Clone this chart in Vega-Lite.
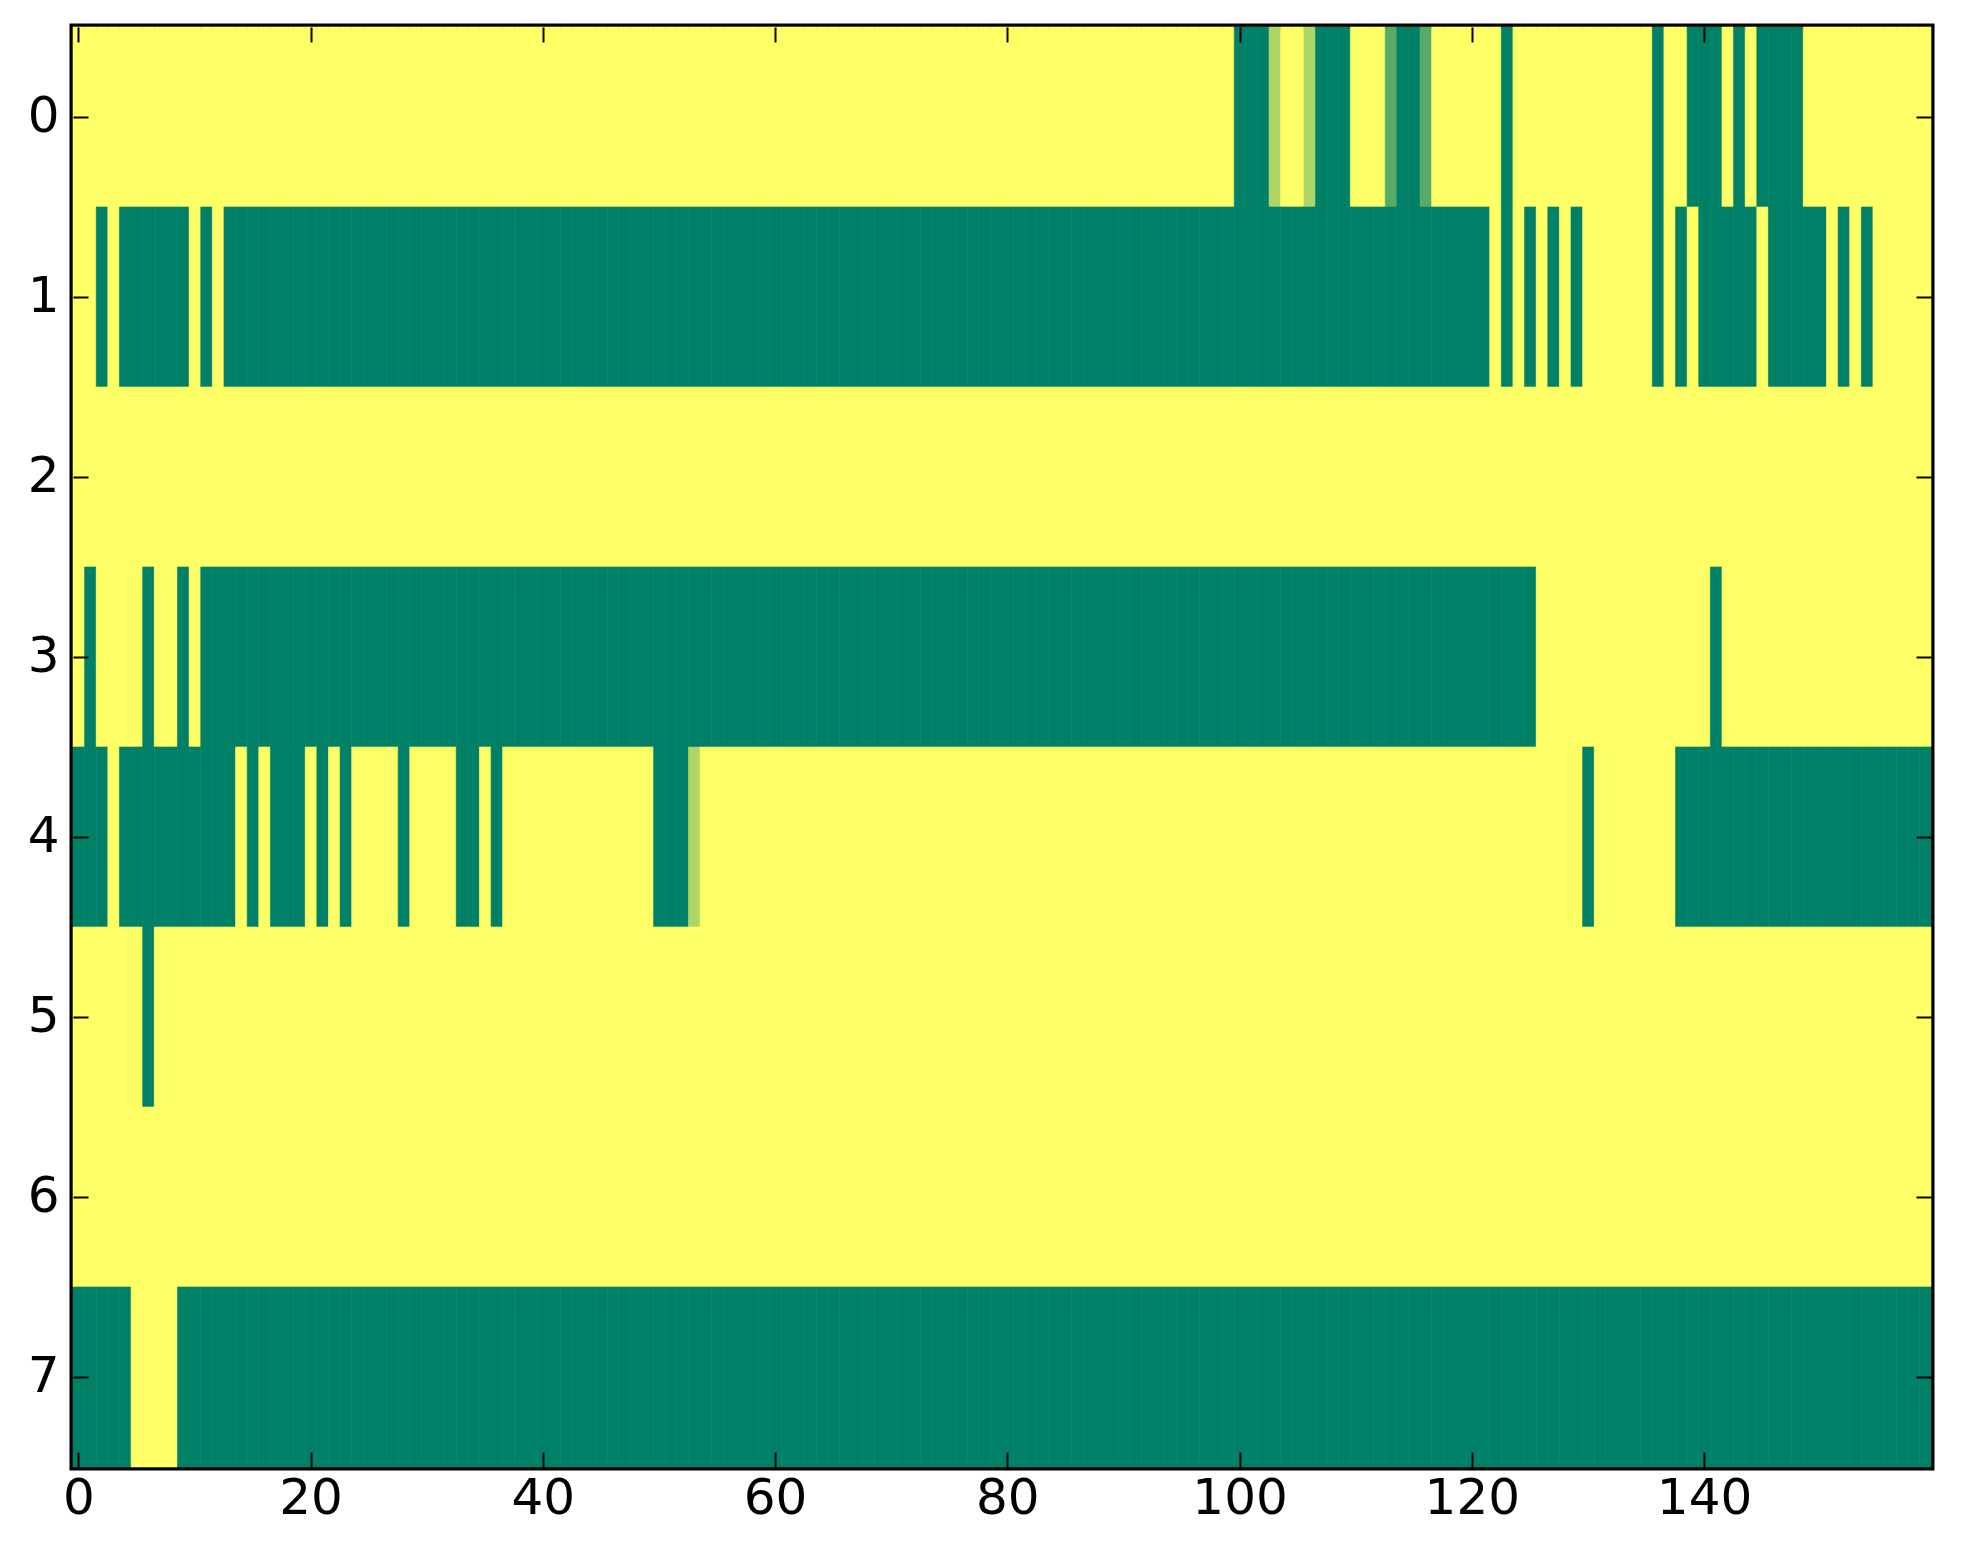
{
"$schema": "https://vega.github.io/schema/vega-lite/v6.json",
"width": 1858,
"height": 1440,
"autosize": "none",
"padding": {"left": 73, "top": 27, "right": 32, "bottom": 97},
"background": "white",
"config": {"view": {"stroke": "black", "strokeWidth": 7}},
"data": {"values": [
{"r":0,"c":0,"v":0},{"r":0,"c":1,"v":0},{"r":0,"c":2,"v":0},{"r":0,"c":3,"v":0},{"r":0,"c":4,"v":0},{"r":0,"c":5,"v":0},{"r":0,"c":6,"v":0},{"r":0,"c":7,"v":0},{"r":0,"c":8,"v":0},{"r":0,"c":9,"v":0},
{"r":0,"c":10,"v":0},{"r":0,"c":11,"v":0},{"r":0,"c":12,"v":0},{"r":0,"c":13,"v":0},{"r":0,"c":14,"v":0},{"r":0,"c":15,"v":0},{"r":0,"c":16,"v":0},{"r":0,"c":17,"v":0},{"r":0,"c":18,"v":0},{"r":0,"c":19,"v":0},
{"r":0,"c":20,"v":0},{"r":0,"c":21,"v":0},{"r":0,"c":22,"v":0},{"r":0,"c":23,"v":0},{"r":0,"c":24,"v":0},{"r":0,"c":25,"v":0},{"r":0,"c":26,"v":0},{"r":0,"c":27,"v":0},{"r":0,"c":28,"v":0},{"r":0,"c":29,"v":0},
{"r":0,"c":30,"v":0},{"r":0,"c":31,"v":0},{"r":0,"c":32,"v":0},{"r":0,"c":33,"v":0},{"r":0,"c":34,"v":0},{"r":0,"c":35,"v":0},{"r":0,"c":36,"v":0},{"r":0,"c":37,"v":0},{"r":0,"c":38,"v":0},{"r":0,"c":39,"v":0},
{"r":0,"c":40,"v":0},{"r":0,"c":41,"v":0},{"r":0,"c":42,"v":0},{"r":0,"c":43,"v":0},{"r":0,"c":44,"v":0},{"r":0,"c":45,"v":0},{"r":0,"c":46,"v":0},{"r":0,"c":47,"v":0},{"r":0,"c":48,"v":0},{"r":0,"c":49,"v":0},
{"r":0,"c":50,"v":0},{"r":0,"c":51,"v":0},{"r":0,"c":52,"v":0},{"r":0,"c":53,"v":0},{"r":0,"c":54,"v":0},{"r":0,"c":55,"v":0},{"r":0,"c":56,"v":0},{"r":0,"c":57,"v":0},{"r":0,"c":58,"v":0},{"r":0,"c":59,"v":0},
{"r":0,"c":60,"v":0},{"r":0,"c":61,"v":0},{"r":0,"c":62,"v":0},{"r":0,"c":63,"v":0},{"r":0,"c":64,"v":0},{"r":0,"c":65,"v":0},{"r":0,"c":66,"v":0},{"r":0,"c":67,"v":0},{"r":0,"c":68,"v":0},{"r":0,"c":69,"v":0},
{"r":0,"c":70,"v":0},{"r":0,"c":71,"v":0},{"r":0,"c":72,"v":0},{"r":0,"c":73,"v":0},{"r":0,"c":74,"v":0},{"r":0,"c":75,"v":0},{"r":0,"c":76,"v":0},{"r":0,"c":77,"v":0},{"r":0,"c":78,"v":0},{"r":0,"c":79,"v":0},
{"r":0,"c":80,"v":0},{"r":0,"c":81,"v":0},{"r":0,"c":82,"v":0},{"r":0,"c":83,"v":0},{"r":0,"c":84,"v":0},{"r":0,"c":85,"v":0},{"r":0,"c":86,"v":0},{"r":0,"c":87,"v":0},{"r":0,"c":88,"v":0},{"r":0,"c":89,"v":0},
{"r":0,"c":90,"v":0},{"r":0,"c":91,"v":0},{"r":0,"c":92,"v":0},{"r":0,"c":93,"v":0},{"r":0,"c":94,"v":0},{"r":0,"c":95,"v":0},{"r":0,"c":96,"v":0},{"r":0,"c":97,"v":0},{"r":0,"c":98,"v":0},{"r":0,"c":99,"v":0},
{"r":0,"c":100,"v":1},{"r":0,"c":101,"v":1},{"r":0,"c":102,"v":1},{"r":0,"c":103,"v":0.32},{"r":0,"c":104,"v":0},{"r":0,"c":105,"v":0},{"r":0,"c":106,"v":0.32},{"r":0,"c":107,"v":1},{"r":0,"c":108,"v":1},{"r":0,"c":109,"v":1},
{"r":0,"c":110,"v":0},{"r":0,"c":111,"v":0},{"r":0,"c":112,"v":0},{"r":0,"c":113,"v":0.66},{"r":0,"c":114,"v":1},{"r":0,"c":115,"v":1},{"r":0,"c":116,"v":0.66},{"r":0,"c":117,"v":0},{"r":0,"c":118,"v":0},{"r":0,"c":119,"v":0},
{"r":0,"c":120,"v":0},{"r":0,"c":121,"v":0},{"r":0,"c":122,"v":0},{"r":0,"c":123,"v":1},{"r":0,"c":124,"v":0},{"r":0,"c":125,"v":0},{"r":0,"c":126,"v":0},{"r":0,"c":127,"v":0},{"r":0,"c":128,"v":0},{"r":0,"c":129,"v":0},
{"r":0,"c":130,"v":0},{"r":0,"c":131,"v":0},{"r":0,"c":132,"v":0},{"r":0,"c":133,"v":0},{"r":0,"c":134,"v":0},{"r":0,"c":135,"v":0},{"r":0,"c":136,"v":1},{"r":0,"c":137,"v":0},{"r":0,"c":138,"v":0},{"r":0,"c":139,"v":1},
{"r":0,"c":140,"v":1},{"r":0,"c":141,"v":1},{"r":0,"c":142,"v":0},{"r":0,"c":143,"v":1},{"r":0,"c":144,"v":0},{"r":0,"c":145,"v":1},{"r":0,"c":146,"v":1},{"r":0,"c":147,"v":1},{"r":0,"c":148,"v":1},{"r":0,"c":149,"v":0},
{"r":0,"c":150,"v":0},{"r":0,"c":151,"v":0},{"r":0,"c":152,"v":0},{"r":0,"c":153,"v":0},{"r":0,"c":154,"v":0},{"r":0,"c":155,"v":0},{"r":0,"c":156,"v":0},{"r":0,"c":157,"v":0},{"r":0,"c":158,"v":0},{"r":0,"c":159,"v":0},

{"r":1,"c":0,"v":0},{"r":1,"c":1,"v":0},{"r":1,"c":2,"v":1},{"r":1,"c":3,"v":0},{"r":1,"c":4,"v":1},{"r":1,"c":5,"v":1},{"r":1,"c":6,"v":1},{"r":1,"c":7,"v":1},{"r":1,"c":8,"v":1},{"r":1,"c":9,"v":1},
{"r":1,"c":10,"v":0},{"r":1,"c":11,"v":1},{"r":1,"c":12,"v":0},{"r":1,"c":13,"v":1},{"r":1,"c":14,"v":1},{"r":1,"c":15,"v":1},{"r":1,"c":16,"v":1},{"r":1,"c":17,"v":1},{"r":1,"c":18,"v":1},{"r":1,"c":19,"v":1},
{"r":1,"c":20,"v":1},{"r":1,"c":21,"v":1},{"r":1,"c":22,"v":1},{"r":1,"c":23,"v":1},{"r":1,"c":24,"v":1},{"r":1,"c":25,"v":1},{"r":1,"c":26,"v":1},{"r":1,"c":27,"v":1},{"r":1,"c":28,"v":1},{"r":1,"c":29,"v":1},
{"r":1,"c":30,"v":1},{"r":1,"c":31,"v":1},{"r":1,"c":32,"v":1},{"r":1,"c":33,"v":1},{"r":1,"c":34,"v":1},{"r":1,"c":35,"v":1},{"r":1,"c":36,"v":1},{"r":1,"c":37,"v":1},{"r":1,"c":38,"v":1},{"r":1,"c":39,"v":1},
{"r":1,"c":40,"v":1},{"r":1,"c":41,"v":1},{"r":1,"c":42,"v":1},{"r":1,"c":43,"v":1},{"r":1,"c":44,"v":1},{"r":1,"c":45,"v":1},{"r":1,"c":46,"v":1},{"r":1,"c":47,"v":1},{"r":1,"c":48,"v":1},{"r":1,"c":49,"v":1},
{"r":1,"c":50,"v":1},{"r":1,"c":51,"v":1},{"r":1,"c":52,"v":1},{"r":1,"c":53,"v":1},{"r":1,"c":54,"v":1},{"r":1,"c":55,"v":1},{"r":1,"c":56,"v":1},{"r":1,"c":57,"v":1},{"r":1,"c":58,"v":1},{"r":1,"c":59,"v":1},
{"r":1,"c":60,"v":1},{"r":1,"c":61,"v":1},{"r":1,"c":62,"v":1},{"r":1,"c":63,"v":1},{"r":1,"c":64,"v":1},{"r":1,"c":65,"v":1},{"r":1,"c":66,"v":1},{"r":1,"c":67,"v":1},{"r":1,"c":68,"v":1},{"r":1,"c":69,"v":1},
{"r":1,"c":70,"v":1},{"r":1,"c":71,"v":1},{"r":1,"c":72,"v":1},{"r":1,"c":73,"v":1},{"r":1,"c":74,"v":1},{"r":1,"c":75,"v":1},{"r":1,"c":76,"v":1},{"r":1,"c":77,"v":1},{"r":1,"c":78,"v":1},{"r":1,"c":79,"v":1},
{"r":1,"c":80,"v":1},{"r":1,"c":81,"v":1},{"r":1,"c":82,"v":1},{"r":1,"c":83,"v":1},{"r":1,"c":84,"v":1},{"r":1,"c":85,"v":1},{"r":1,"c":86,"v":1},{"r":1,"c":87,"v":1},{"r":1,"c":88,"v":1},{"r":1,"c":89,"v":1},
{"r":1,"c":90,"v":1},{"r":1,"c":91,"v":1},{"r":1,"c":92,"v":1},{"r":1,"c":93,"v":1},{"r":1,"c":94,"v":1},{"r":1,"c":95,"v":1},{"r":1,"c":96,"v":1},{"r":1,"c":97,"v":1},{"r":1,"c":98,"v":1},{"r":1,"c":99,"v":1},
{"r":1,"c":100,"v":1},{"r":1,"c":101,"v":1},{"r":1,"c":102,"v":1},{"r":1,"c":103,"v":1},{"r":1,"c":104,"v":1},{"r":1,"c":105,"v":1},{"r":1,"c":106,"v":1},{"r":1,"c":107,"v":1},{"r":1,"c":108,"v":1},{"r":1,"c":109,"v":1},
{"r":1,"c":110,"v":1},{"r":1,"c":111,"v":1},{"r":1,"c":112,"v":1},{"r":1,"c":113,"v":1},{"r":1,"c":114,"v":1},{"r":1,"c":115,"v":1},{"r":1,"c":116,"v":1},{"r":1,"c":117,"v":1},{"r":1,"c":118,"v":1},{"r":1,"c":119,"v":1},
{"r":1,"c":120,"v":1},{"r":1,"c":121,"v":1},{"r":1,"c":122,"v":0},{"r":1,"c":123,"v":1},{"r":1,"c":124,"v":0},{"r":1,"c":125,"v":1},{"r":1,"c":126,"v":0},{"r":1,"c":127,"v":1},{"r":1,"c":128,"v":0},{"r":1,"c":129,"v":1},
{"r":1,"c":130,"v":0},{"r":1,"c":131,"v":0},{"r":1,"c":132,"v":0},{"r":1,"c":133,"v":0},{"r":1,"c":134,"v":0},{"r":1,"c":135,"v":0},{"r":1,"c":136,"v":1},{"r":1,"c":137,"v":0},{"r":1,"c":138,"v":1},{"r":1,"c":139,"v":0},
{"r":1,"c":140,"v":1},{"r":1,"c":141,"v":1},{"r":1,"c":142,"v":1},{"r":1,"c":143,"v":1},{"r":1,"c":144,"v":1},{"r":1,"c":145,"v":0},{"r":1,"c":146,"v":1},{"r":1,"c":147,"v":1},{"r":1,"c":148,"v":1},{"r":1,"c":149,"v":1},
{"r":1,"c":150,"v":1},{"r":1,"c":151,"v":0},{"r":1,"c":152,"v":1},{"r":1,"c":153,"v":0},{"r":1,"c":154,"v":1},{"r":1,"c":155,"v":0},{"r":1,"c":156,"v":0},{"r":1,"c":157,"v":0},{"r":1,"c":158,"v":0},{"r":1,"c":159,"v":0},

{"r":2,"c":0,"v":0},{"r":2,"c":1,"v":0},{"r":2,"c":2,"v":0},{"r":2,"c":3,"v":0},{"r":2,"c":4,"v":0},{"r":2,"c":5,"v":0},{"r":2,"c":6,"v":0},{"r":2,"c":7,"v":0},{"r":2,"c":8,"v":0},{"r":2,"c":9,"v":0},
{"r":2,"c":10,"v":0},{"r":2,"c":11,"v":0},{"r":2,"c":12,"v":0},{"r":2,"c":13,"v":0},{"r":2,"c":14,"v":0},{"r":2,"c":15,"v":0},{"r":2,"c":16,"v":0},{"r":2,"c":17,"v":0},{"r":2,"c":18,"v":0},{"r":2,"c":19,"v":0},
{"r":2,"c":20,"v":0},{"r":2,"c":21,"v":0},{"r":2,"c":22,"v":0},{"r":2,"c":23,"v":0},{"r":2,"c":24,"v":0},{"r":2,"c":25,"v":0},{"r":2,"c":26,"v":0},{"r":2,"c":27,"v":0},{"r":2,"c":28,"v":0},{"r":2,"c":29,"v":0},
{"r":2,"c":30,"v":0},{"r":2,"c":31,"v":0},{"r":2,"c":32,"v":0},{"r":2,"c":33,"v":0},{"r":2,"c":34,"v":0},{"r":2,"c":35,"v":0},{"r":2,"c":36,"v":0},{"r":2,"c":37,"v":0},{"r":2,"c":38,"v":0},{"r":2,"c":39,"v":0},
{"r":2,"c":40,"v":0},{"r":2,"c":41,"v":0},{"r":2,"c":42,"v":0},{"r":2,"c":43,"v":0},{"r":2,"c":44,"v":0},{"r":2,"c":45,"v":0},{"r":2,"c":46,"v":0},{"r":2,"c":47,"v":0},{"r":2,"c":48,"v":0},{"r":2,"c":49,"v":0},
{"r":2,"c":50,"v":0},{"r":2,"c":51,"v":0},{"r":2,"c":52,"v":0},{"r":2,"c":53,"v":0},{"r":2,"c":54,"v":0},{"r":2,"c":55,"v":0},{"r":2,"c":56,"v":0},{"r":2,"c":57,"v":0},{"r":2,"c":58,"v":0},{"r":2,"c":59,"v":0},
{"r":2,"c":60,"v":0},{"r":2,"c":61,"v":0},{"r":2,"c":62,"v":0},{"r":2,"c":63,"v":0},{"r":2,"c":64,"v":0},{"r":2,"c":65,"v":0},{"r":2,"c":66,"v":0},{"r":2,"c":67,"v":0},{"r":2,"c":68,"v":0},{"r":2,"c":69,"v":0},
{"r":2,"c":70,"v":0},{"r":2,"c":71,"v":0},{"r":2,"c":72,"v":0},{"r":2,"c":73,"v":0},{"r":2,"c":74,"v":0},{"r":2,"c":75,"v":0},{"r":2,"c":76,"v":0},{"r":2,"c":77,"v":0},{"r":2,"c":78,"v":0},{"r":2,"c":79,"v":0},
{"r":2,"c":80,"v":0},{"r":2,"c":81,"v":0},{"r":2,"c":82,"v":0},{"r":2,"c":83,"v":0},{"r":2,"c":84,"v":0},{"r":2,"c":85,"v":0},{"r":2,"c":86,"v":0},{"r":2,"c":87,"v":0},{"r":2,"c":88,"v":0},{"r":2,"c":89,"v":0},
{"r":2,"c":90,"v":0},{"r":2,"c":91,"v":0},{"r":2,"c":92,"v":0},{"r":2,"c":93,"v":0},{"r":2,"c":94,"v":0},{"r":2,"c":95,"v":0},{"r":2,"c":96,"v":0},{"r":2,"c":97,"v":0},{"r":2,"c":98,"v":0},{"r":2,"c":99,"v":0},
{"r":2,"c":100,"v":0},{"r":2,"c":101,"v":0},{"r":2,"c":102,"v":0},{"r":2,"c":103,"v":0},{"r":2,"c":104,"v":0},{"r":2,"c":105,"v":0},{"r":2,"c":106,"v":0},{"r":2,"c":107,"v":0},{"r":2,"c":108,"v":0},{"r":2,"c":109,"v":0},
{"r":2,"c":110,"v":0},{"r":2,"c":111,"v":0},{"r":2,"c":112,"v":0},{"r":2,"c":113,"v":0},{"r":2,"c":114,"v":0},{"r":2,"c":115,"v":0},{"r":2,"c":116,"v":0},{"r":2,"c":117,"v":0},{"r":2,"c":118,"v":0},{"r":2,"c":119,"v":0},
{"r":2,"c":120,"v":0},{"r":2,"c":121,"v":0},{"r":2,"c":122,"v":0},{"r":2,"c":123,"v":0},{"r":2,"c":124,"v":0},{"r":2,"c":125,"v":0},{"r":2,"c":126,"v":0},{"r":2,"c":127,"v":0},{"r":2,"c":128,"v":0},{"r":2,"c":129,"v":0},
{"r":2,"c":130,"v":0},{"r":2,"c":131,"v":0},{"r":2,"c":132,"v":0},{"r":2,"c":133,"v":0},{"r":2,"c":134,"v":0},{"r":2,"c":135,"v":0},{"r":2,"c":136,"v":0},{"r":2,"c":137,"v":0},{"r":2,"c":138,"v":0},{"r":2,"c":139,"v":0},
{"r":2,"c":140,"v":0},{"r":2,"c":141,"v":0},{"r":2,"c":142,"v":0},{"r":2,"c":143,"v":0},{"r":2,"c":144,"v":0},{"r":2,"c":145,"v":0},{"r":2,"c":146,"v":0},{"r":2,"c":147,"v":0},{"r":2,"c":148,"v":0},{"r":2,"c":149,"v":0},
{"r":2,"c":150,"v":0},{"r":2,"c":151,"v":0},{"r":2,"c":152,"v":0},{"r":2,"c":153,"v":0},{"r":2,"c":154,"v":0},{"r":2,"c":155,"v":0},{"r":2,"c":156,"v":0},{"r":2,"c":157,"v":0},{"r":2,"c":158,"v":0},{"r":2,"c":159,"v":0},

{"r":3,"c":0,"v":0},{"r":3,"c":1,"v":1},{"r":3,"c":2,"v":0},{"r":3,"c":3,"v":0},{"r":3,"c":4,"v":0},{"r":3,"c":5,"v":0},{"r":3,"c":6,"v":1},{"r":3,"c":7,"v":0},{"r":3,"c":8,"v":0},{"r":3,"c":9,"v":1},
{"r":3,"c":10,"v":0},{"r":3,"c":11,"v":1},{"r":3,"c":12,"v":1},{"r":3,"c":13,"v":1},{"r":3,"c":14,"v":1},{"r":3,"c":15,"v":1},{"r":3,"c":16,"v":1},{"r":3,"c":17,"v":1},{"r":3,"c":18,"v":1},{"r":3,"c":19,"v":1},
{"r":3,"c":20,"v":1},{"r":3,"c":21,"v":1},{"r":3,"c":22,"v":1},{"r":3,"c":23,"v":1},{"r":3,"c":24,"v":1},{"r":3,"c":25,"v":1},{"r":3,"c":26,"v":1},{"r":3,"c":27,"v":1},{"r":3,"c":28,"v":1},{"r":3,"c":29,"v":1},
{"r":3,"c":30,"v":1},{"r":3,"c":31,"v":1},{"r":3,"c":32,"v":1},{"r":3,"c":33,"v":1},{"r":3,"c":34,"v":1},{"r":3,"c":35,"v":1},{"r":3,"c":36,"v":1},{"r":3,"c":37,"v":1},{"r":3,"c":38,"v":1},{"r":3,"c":39,"v":1},
{"r":3,"c":40,"v":1},{"r":3,"c":41,"v":1},{"r":3,"c":42,"v":1},{"r":3,"c":43,"v":1},{"r":3,"c":44,"v":1},{"r":3,"c":45,"v":1},{"r":3,"c":46,"v":1},{"r":3,"c":47,"v":1},{"r":3,"c":48,"v":1},{"r":3,"c":49,"v":1},
{"r":3,"c":50,"v":1},{"r":3,"c":51,"v":1},{"r":3,"c":52,"v":1},{"r":3,"c":53,"v":1},{"r":3,"c":54,"v":1},{"r":3,"c":55,"v":1},{"r":3,"c":56,"v":1},{"r":3,"c":57,"v":1},{"r":3,"c":58,"v":1},{"r":3,"c":59,"v":1},
{"r":3,"c":60,"v":1},{"r":3,"c":61,"v":1},{"r":3,"c":62,"v":1},{"r":3,"c":63,"v":1},{"r":3,"c":64,"v":1},{"r":3,"c":65,"v":1},{"r":3,"c":66,"v":1},{"r":3,"c":67,"v":1},{"r":3,"c":68,"v":1},{"r":3,"c":69,"v":1},
{"r":3,"c":70,"v":1},{"r":3,"c":71,"v":1},{"r":3,"c":72,"v":1},{"r":3,"c":73,"v":1},{"r":3,"c":74,"v":1},{"r":3,"c":75,"v":1},{"r":3,"c":76,"v":1},{"r":3,"c":77,"v":1},{"r":3,"c":78,"v":1},{"r":3,"c":79,"v":1},
{"r":3,"c":80,"v":1},{"r":3,"c":81,"v":1},{"r":3,"c":82,"v":1},{"r":3,"c":83,"v":1},{"r":3,"c":84,"v":1},{"r":3,"c":85,"v":1},{"r":3,"c":86,"v":1},{"r":3,"c":87,"v":1},{"r":3,"c":88,"v":1},{"r":3,"c":89,"v":1},
{"r":3,"c":90,"v":1},{"r":3,"c":91,"v":1},{"r":3,"c":92,"v":1},{"r":3,"c":93,"v":1},{"r":3,"c":94,"v":1},{"r":3,"c":95,"v":1},{"r":3,"c":96,"v":1},{"r":3,"c":97,"v":1},{"r":3,"c":98,"v":1},{"r":3,"c":99,"v":1},
{"r":3,"c":100,"v":1},{"r":3,"c":101,"v":1},{"r":3,"c":102,"v":1},{"r":3,"c":103,"v":1},{"r":3,"c":104,"v":1},{"r":3,"c":105,"v":1},{"r":3,"c":106,"v":1},{"r":3,"c":107,"v":1},{"r":3,"c":108,"v":1},{"r":3,"c":109,"v":1},
{"r":3,"c":110,"v":1},{"r":3,"c":111,"v":1},{"r":3,"c":112,"v":1},{"r":3,"c":113,"v":1},{"r":3,"c":114,"v":1},{"r":3,"c":115,"v":1},{"r":3,"c":116,"v":1},{"r":3,"c":117,"v":1},{"r":3,"c":118,"v":1},{"r":3,"c":119,"v":1},
{"r":3,"c":120,"v":1},{"r":3,"c":121,"v":1},{"r":3,"c":122,"v":1},{"r":3,"c":123,"v":1},{"r":3,"c":124,"v":1},{"r":3,"c":125,"v":1},{"r":3,"c":126,"v":0},{"r":3,"c":127,"v":0},{"r":3,"c":128,"v":0},{"r":3,"c":129,"v":0},
{"r":3,"c":130,"v":0},{"r":3,"c":131,"v":0},{"r":3,"c":132,"v":0},{"r":3,"c":133,"v":0},{"r":3,"c":134,"v":0},{"r":3,"c":135,"v":0},{"r":3,"c":136,"v":0},{"r":3,"c":137,"v":0},{"r":3,"c":138,"v":0},{"r":3,"c":139,"v":0},
{"r":3,"c":140,"v":0},{"r":3,"c":141,"v":1},{"r":3,"c":142,"v":0},{"r":3,"c":143,"v":0},{"r":3,"c":144,"v":0},{"r":3,"c":145,"v":0},{"r":3,"c":146,"v":0},{"r":3,"c":147,"v":0},{"r":3,"c":148,"v":0},{"r":3,"c":149,"v":0},
{"r":3,"c":150,"v":0},{"r":3,"c":151,"v":0},{"r":3,"c":152,"v":0},{"r":3,"c":153,"v":0},{"r":3,"c":154,"v":0},{"r":3,"c":155,"v":0},{"r":3,"c":156,"v":0},{"r":3,"c":157,"v":0},{"r":3,"c":158,"v":0},{"r":3,"c":159,"v":0},

{"r":4,"c":0,"v":1},{"r":4,"c":1,"v":1},{"r":4,"c":2,"v":1},{"r":4,"c":3,"v":0},{"r":4,"c":4,"v":1},{"r":4,"c":5,"v":1},{"r":4,"c":6,"v":1},{"r":4,"c":7,"v":1},{"r":4,"c":8,"v":1},{"r":4,"c":9,"v":1},
{"r":4,"c":10,"v":1},{"r":4,"c":11,"v":1},{"r":4,"c":12,"v":1},{"r":4,"c":13,"v":1},{"r":4,"c":14,"v":0},{"r":4,"c":15,"v":1},{"r":4,"c":16,"v":0},{"r":4,"c":17,"v":1},{"r":4,"c":18,"v":1},{"r":4,"c":19,"v":1},
{"r":4,"c":20,"v":0},{"r":4,"c":21,"v":1},{"r":4,"c":22,"v":0},{"r":4,"c":23,"v":1},{"r":4,"c":24,"v":0},{"r":4,"c":25,"v":0},{"r":4,"c":26,"v":0},{"r":4,"c":27,"v":0},{"r":4,"c":28,"v":1},{"r":4,"c":29,"v":0},
{"r":4,"c":30,"v":0},{"r":4,"c":31,"v":0},{"r":4,"c":32,"v":0},{"r":4,"c":33,"v":1},{"r":4,"c":34,"v":1},{"r":4,"c":35,"v":0},{"r":4,"c":36,"v":1},{"r":4,"c":37,"v":0},{"r":4,"c":38,"v":0},{"r":4,"c":39,"v":0},
{"r":4,"c":40,"v":0},{"r":4,"c":41,"v":0},{"r":4,"c":42,"v":0},{"r":4,"c":43,"v":0},{"r":4,"c":44,"v":0},{"r":4,"c":45,"v":0},{"r":4,"c":46,"v":0},{"r":4,"c":47,"v":0},{"r":4,"c":48,"v":0},{"r":4,"c":49,"v":0},
{"r":4,"c":50,"v":1},{"r":4,"c":51,"v":1},{"r":4,"c":52,"v":1},{"r":4,"c":53,"v":0.32},{"r":4,"c":54,"v":0},{"r":4,"c":55,"v":0},{"r":4,"c":56,"v":0},{"r":4,"c":57,"v":0},{"r":4,"c":58,"v":0},{"r":4,"c":59,"v":0},
{"r":4,"c":60,"v":0},{"r":4,"c":61,"v":0},{"r":4,"c":62,"v":0},{"r":4,"c":63,"v":0},{"r":4,"c":64,"v":0},{"r":4,"c":65,"v":0},{"r":4,"c":66,"v":0},{"r":4,"c":67,"v":0},{"r":4,"c":68,"v":0},{"r":4,"c":69,"v":0},
{"r":4,"c":70,"v":0},{"r":4,"c":71,"v":0},{"r":4,"c":72,"v":0},{"r":4,"c":73,"v":0},{"r":4,"c":74,"v":0},{"r":4,"c":75,"v":0},{"r":4,"c":76,"v":0},{"r":4,"c":77,"v":0},{"r":4,"c":78,"v":0},{"r":4,"c":79,"v":0},
{"r":4,"c":80,"v":0},{"r":4,"c":81,"v":0},{"r":4,"c":82,"v":0},{"r":4,"c":83,"v":0},{"r":4,"c":84,"v":0},{"r":4,"c":85,"v":0},{"r":4,"c":86,"v":0},{"r":4,"c":87,"v":0},{"r":4,"c":88,"v":0},{"r":4,"c":89,"v":0},
{"r":4,"c":90,"v":0},{"r":4,"c":91,"v":0},{"r":4,"c":92,"v":0},{"r":4,"c":93,"v":0},{"r":4,"c":94,"v":0},{"r":4,"c":95,"v":0},{"r":4,"c":96,"v":0},{"r":4,"c":97,"v":0},{"r":4,"c":98,"v":0},{"r":4,"c":99,"v":0},
{"r":4,"c":100,"v":0},{"r":4,"c":101,"v":0},{"r":4,"c":102,"v":0},{"r":4,"c":103,"v":0},{"r":4,"c":104,"v":0},{"r":4,"c":105,"v":0},{"r":4,"c":106,"v":0},{"r":4,"c":107,"v":0},{"r":4,"c":108,"v":0},{"r":4,"c":109,"v":0},
{"r":4,"c":110,"v":0},{"r":4,"c":111,"v":0},{"r":4,"c":112,"v":0},{"r":4,"c":113,"v":0},{"r":4,"c":114,"v":0},{"r":4,"c":115,"v":0},{"r":4,"c":116,"v":0},{"r":4,"c":117,"v":0},{"r":4,"c":118,"v":0},{"r":4,"c":119,"v":0},
{"r":4,"c":120,"v":0},{"r":4,"c":121,"v":0},{"r":4,"c":122,"v":0},{"r":4,"c":123,"v":0},{"r":4,"c":124,"v":0},{"r":4,"c":125,"v":0},{"r":4,"c":126,"v":0},{"r":4,"c":127,"v":0},{"r":4,"c":128,"v":0},{"r":4,"c":129,"v":0},
{"r":4,"c":130,"v":1},{"r":4,"c":131,"v":0},{"r":4,"c":132,"v":0},{"r":4,"c":133,"v":0},{"r":4,"c":134,"v":0},{"r":4,"c":135,"v":0},{"r":4,"c":136,"v":0},{"r":4,"c":137,"v":0},{"r":4,"c":138,"v":1},{"r":4,"c":139,"v":1},
{"r":4,"c":140,"v":1},{"r":4,"c":141,"v":1},{"r":4,"c":142,"v":1},{"r":4,"c":143,"v":1},{"r":4,"c":144,"v":1},{"r":4,"c":145,"v":1},{"r":4,"c":146,"v":1},{"r":4,"c":147,"v":1},{"r":4,"c":148,"v":1},{"r":4,"c":149,"v":1},
{"r":4,"c":150,"v":1},{"r":4,"c":151,"v":1},{"r":4,"c":152,"v":1},{"r":4,"c":153,"v":1},{"r":4,"c":154,"v":1},{"r":4,"c":155,"v":1},{"r":4,"c":156,"v":1},{"r":4,"c":157,"v":1},{"r":4,"c":158,"v":1},{"r":4,"c":159,"v":1},

{"r":5,"c":0,"v":0},{"r":5,"c":1,"v":0},{"r":5,"c":2,"v":0},{"r":5,"c":3,"v":0},{"r":5,"c":4,"v":0},{"r":5,"c":5,"v":0},{"r":5,"c":6,"v":1},{"r":5,"c":7,"v":0},{"r":5,"c":8,"v":0},{"r":5,"c":9,"v":0},
{"r":5,"c":10,"v":0},{"r":5,"c":11,"v":0},{"r":5,"c":12,"v":0},{"r":5,"c":13,"v":0},{"r":5,"c":14,"v":0},{"r":5,"c":15,"v":0},{"r":5,"c":16,"v":0},{"r":5,"c":17,"v":0},{"r":5,"c":18,"v":0},{"r":5,"c":19,"v":0},
{"r":5,"c":20,"v":0},{"r":5,"c":21,"v":0},{"r":5,"c":22,"v":0},{"r":5,"c":23,"v":0},{"r":5,"c":24,"v":0},{"r":5,"c":25,"v":0},{"r":5,"c":26,"v":0},{"r":5,"c":27,"v":0},{"r":5,"c":28,"v":0},{"r":5,"c":29,"v":0},
{"r":5,"c":30,"v":0},{"r":5,"c":31,"v":0},{"r":5,"c":32,"v":0},{"r":5,"c":33,"v":0},{"r":5,"c":34,"v":0},{"r":5,"c":35,"v":0},{"r":5,"c":36,"v":0},{"r":5,"c":37,"v":0},{"r":5,"c":38,"v":0},{"r":5,"c":39,"v":0},
{"r":5,"c":40,"v":0},{"r":5,"c":41,"v":0},{"r":5,"c":42,"v":0},{"r":5,"c":43,"v":0},{"r":5,"c":44,"v":0},{"r":5,"c":45,"v":0},{"r":5,"c":46,"v":0},{"r":5,"c":47,"v":0},{"r":5,"c":48,"v":0},{"r":5,"c":49,"v":0},
{"r":5,"c":50,"v":0},{"r":5,"c":51,"v":0},{"r":5,"c":52,"v":0},{"r":5,"c":53,"v":0},{"r":5,"c":54,"v":0},{"r":5,"c":55,"v":0},{"r":5,"c":56,"v":0},{"r":5,"c":57,"v":0},{"r":5,"c":58,"v":0},{"r":5,"c":59,"v":0},
{"r":5,"c":60,"v":0},{"r":5,"c":61,"v":0},{"r":5,"c":62,"v":0},{"r":5,"c":63,"v":0},{"r":5,"c":64,"v":0},{"r":5,"c":65,"v":0},{"r":5,"c":66,"v":0},{"r":5,"c":67,"v":0},{"r":5,"c":68,"v":0},{"r":5,"c":69,"v":0},
{"r":5,"c":70,"v":0},{"r":5,"c":71,"v":0},{"r":5,"c":72,"v":0},{"r":5,"c":73,"v":0},{"r":5,"c":74,"v":0},{"r":5,"c":75,"v":0},{"r":5,"c":76,"v":0},{"r":5,"c":77,"v":0},{"r":5,"c":78,"v":0},{"r":5,"c":79,"v":0},
{"r":5,"c":80,"v":0},{"r":5,"c":81,"v":0},{"r":5,"c":82,"v":0},{"r":5,"c":83,"v":0},{"r":5,"c":84,"v":0},{"r":5,"c":85,"v":0},{"r":5,"c":86,"v":0},{"r":5,"c":87,"v":0},{"r":5,"c":88,"v":0},{"r":5,"c":89,"v":0},
{"r":5,"c":90,"v":0},{"r":5,"c":91,"v":0},{"r":5,"c":92,"v":0},{"r":5,"c":93,"v":0},{"r":5,"c":94,"v":0},{"r":5,"c":95,"v":0},{"r":5,"c":96,"v":0},{"r":5,"c":97,"v":0},{"r":5,"c":98,"v":0},{"r":5,"c":99,"v":0},
{"r":5,"c":100,"v":0},{"r":5,"c":101,"v":0},{"r":5,"c":102,"v":0},{"r":5,"c":103,"v":0},{"r":5,"c":104,"v":0},{"r":5,"c":105,"v":0},{"r":5,"c":106,"v":0},{"r":5,"c":107,"v":0},{"r":5,"c":108,"v":0},{"r":5,"c":109,"v":0},
{"r":5,"c":110,"v":0},{"r":5,"c":111,"v":0},{"r":5,"c":112,"v":0},{"r":5,"c":113,"v":0},{"r":5,"c":114,"v":0},{"r":5,"c":115,"v":0},{"r":5,"c":116,"v":0},{"r":5,"c":117,"v":0},{"r":5,"c":118,"v":0},{"r":5,"c":119,"v":0},
{"r":5,"c":120,"v":0},{"r":5,"c":121,"v":0},{"r":5,"c":122,"v":0},{"r":5,"c":123,"v":0},{"r":5,"c":124,"v":0},{"r":5,"c":125,"v":0},{"r":5,"c":126,"v":0},{"r":5,"c":127,"v":0},{"r":5,"c":128,"v":0},{"r":5,"c":129,"v":0},
{"r":5,"c":130,"v":0},{"r":5,"c":131,"v":0},{"r":5,"c":132,"v":0},{"r":5,"c":133,"v":0},{"r":5,"c":134,"v":0},{"r":5,"c":135,"v":0},{"r":5,"c":136,"v":0},{"r":5,"c":137,"v":0},{"r":5,"c":138,"v":0},{"r":5,"c":139,"v":0},
{"r":5,"c":140,"v":0},{"r":5,"c":141,"v":0},{"r":5,"c":142,"v":0},{"r":5,"c":143,"v":0},{"r":5,"c":144,"v":0},{"r":5,"c":145,"v":0},{"r":5,"c":146,"v":0},{"r":5,"c":147,"v":0},{"r":5,"c":148,"v":0},{"r":5,"c":149,"v":0},
{"r":5,"c":150,"v":0},{"r":5,"c":151,"v":0},{"r":5,"c":152,"v":0},{"r":5,"c":153,"v":0},{"r":5,"c":154,"v":0},{"r":5,"c":155,"v":0},{"r":5,"c":156,"v":0},{"r":5,"c":157,"v":0},{"r":5,"c":158,"v":0},{"r":5,"c":159,"v":0},

{"r":6,"c":0,"v":0},{"r":6,"c":1,"v":0},{"r":6,"c":2,"v":0},{"r":6,"c":3,"v":0},{"r":6,"c":4,"v":0},{"r":6,"c":5,"v":0},{"r":6,"c":6,"v":0},{"r":6,"c":7,"v":0},{"r":6,"c":8,"v":0},{"r":6,"c":9,"v":0},
{"r":6,"c":10,"v":0},{"r":6,"c":11,"v":0},{"r":6,"c":12,"v":0},{"r":6,"c":13,"v":0},{"r":6,"c":14,"v":0},{"r":6,"c":15,"v":0},{"r":6,"c":16,"v":0},{"r":6,"c":17,"v":0},{"r":6,"c":18,"v":0},{"r":6,"c":19,"v":0},
{"r":6,"c":20,"v":0},{"r":6,"c":21,"v":0},{"r":6,"c":22,"v":0},{"r":6,"c":23,"v":0},{"r":6,"c":24,"v":0},{"r":6,"c":25,"v":0},{"r":6,"c":26,"v":0},{"r":6,"c":27,"v":0},{"r":6,"c":28,"v":0},{"r":6,"c":29,"v":0},
{"r":6,"c":30,"v":0},{"r":6,"c":31,"v":0},{"r":6,"c":32,"v":0},{"r":6,"c":33,"v":0},{"r":6,"c":34,"v":0},{"r":6,"c":35,"v":0},{"r":6,"c":36,"v":0},{"r":6,"c":37,"v":0},{"r":6,"c":38,"v":0},{"r":6,"c":39,"v":0},
{"r":6,"c":40,"v":0},{"r":6,"c":41,"v":0},{"r":6,"c":42,"v":0},{"r":6,"c":43,"v":0},{"r":6,"c":44,"v":0},{"r":6,"c":45,"v":0},{"r":6,"c":46,"v":0},{"r":6,"c":47,"v":0},{"r":6,"c":48,"v":0},{"r":6,"c":49,"v":0},
{"r":6,"c":50,"v":0},{"r":6,"c":51,"v":0},{"r":6,"c":52,"v":0},{"r":6,"c":53,"v":0},{"r":6,"c":54,"v":0},{"r":6,"c":55,"v":0},{"r":6,"c":56,"v":0},{"r":6,"c":57,"v":0},{"r":6,"c":58,"v":0},{"r":6,"c":59,"v":0},
{"r":6,"c":60,"v":0},{"r":6,"c":61,"v":0},{"r":6,"c":62,"v":0},{"r":6,"c":63,"v":0},{"r":6,"c":64,"v":0},{"r":6,"c":65,"v":0},{"r":6,"c":66,"v":0},{"r":6,"c":67,"v":0},{"r":6,"c":68,"v":0},{"r":6,"c":69,"v":0},
{"r":6,"c":70,"v":0},{"r":6,"c":71,"v":0},{"r":6,"c":72,"v":0},{"r":6,"c":73,"v":0},{"r":6,"c":74,"v":0},{"r":6,"c":75,"v":0},{"r":6,"c":76,"v":0},{"r":6,"c":77,"v":0},{"r":6,"c":78,"v":0},{"r":6,"c":79,"v":0},
{"r":6,"c":80,"v":0},{"r":6,"c":81,"v":0},{"r":6,"c":82,"v":0},{"r":6,"c":83,"v":0},{"r":6,"c":84,"v":0},{"r":6,"c":85,"v":0},{"r":6,"c":86,"v":0},{"r":6,"c":87,"v":0},{"r":6,"c":88,"v":0},{"r":6,"c":89,"v":0},
{"r":6,"c":90,"v":0},{"r":6,"c":91,"v":0},{"r":6,"c":92,"v":0},{"r":6,"c":93,"v":0},{"r":6,"c":94,"v":0},{"r":6,"c":95,"v":0},{"r":6,"c":96,"v":0},{"r":6,"c":97,"v":0},{"r":6,"c":98,"v":0},{"r":6,"c":99,"v":0},
{"r":6,"c":100,"v":0},{"r":6,"c":101,"v":0},{"r":6,"c":102,"v":0},{"r":6,"c":103,"v":0},{"r":6,"c":104,"v":0},{"r":6,"c":105,"v":0},{"r":6,"c":106,"v":0},{"r":6,"c":107,"v":0},{"r":6,"c":108,"v":0},{"r":6,"c":109,"v":0},
{"r":6,"c":110,"v":0},{"r":6,"c":111,"v":0},{"r":6,"c":112,"v":0},{"r":6,"c":113,"v":0},{"r":6,"c":114,"v":0},{"r":6,"c":115,"v":0},{"r":6,"c":116,"v":0},{"r":6,"c":117,"v":0},{"r":6,"c":118,"v":0},{"r":6,"c":119,"v":0},
{"r":6,"c":120,"v":0},{"r":6,"c":121,"v":0},{"r":6,"c":122,"v":0},{"r":6,"c":123,"v":0},{"r":6,"c":124,"v":0},{"r":6,"c":125,"v":0},{"r":6,"c":126,"v":0},{"r":6,"c":127,"v":0},{"r":6,"c":128,"v":0},{"r":6,"c":129,"v":0},
{"r":6,"c":130,"v":0},{"r":6,"c":131,"v":0},{"r":6,"c":132,"v":0},{"r":6,"c":133,"v":0},{"r":6,"c":134,"v":0},{"r":6,"c":135,"v":0},{"r":6,"c":136,"v":0},{"r":6,"c":137,"v":0},{"r":6,"c":138,"v":0},{"r":6,"c":139,"v":0},
{"r":6,"c":140,"v":0},{"r":6,"c":141,"v":0},{"r":6,"c":142,"v":0},{"r":6,"c":143,"v":0},{"r":6,"c":144,"v":0},{"r":6,"c":145,"v":0},{"r":6,"c":146,"v":0},{"r":6,"c":147,"v":0},{"r":6,"c":148,"v":0},{"r":6,"c":149,"v":0},
{"r":6,"c":150,"v":0},{"r":6,"c":151,"v":0},{"r":6,"c":152,"v":0},{"r":6,"c":153,"v":0},{"r":6,"c":154,"v":0},{"r":6,"c":155,"v":0},{"r":6,"c":156,"v":0},{"r":6,"c":157,"v":0},{"r":6,"c":158,"v":0},{"r":6,"c":159,"v":0},

{"r":7,"c":0,"v":1},{"r":7,"c":1,"v":1},{"r":7,"c":2,"v":1},{"r":7,"c":3,"v":1},{"r":7,"c":4,"v":1},{"r":7,"c":5,"v":0},{"r":7,"c":6,"v":0},{"r":7,"c":7,"v":0},{"r":7,"c":8,"v":0},{"r":7,"c":9,"v":1},
{"r":7,"c":10,"v":1},{"r":7,"c":11,"v":1},{"r":7,"c":12,"v":1},{"r":7,"c":13,"v":1},{"r":7,"c":14,"v":1},{"r":7,"c":15,"v":1},{"r":7,"c":16,"v":1},{"r":7,"c":17,"v":1},{"r":7,"c":18,"v":1},{"r":7,"c":19,"v":1},
{"r":7,"c":20,"v":1},{"r":7,"c":21,"v":1},{"r":7,"c":22,"v":1},{"r":7,"c":23,"v":1},{"r":7,"c":24,"v":1},{"r":7,"c":25,"v":1},{"r":7,"c":26,"v":1},{"r":7,"c":27,"v":1},{"r":7,"c":28,"v":1},{"r":7,"c":29,"v":1},
{"r":7,"c":30,"v":1},{"r":7,"c":31,"v":1},{"r":7,"c":32,"v":1},{"r":7,"c":33,"v":1},{"r":7,"c":34,"v":1},{"r":7,"c":35,"v":1},{"r":7,"c":36,"v":1},{"r":7,"c":37,"v":1},{"r":7,"c":38,"v":1},{"r":7,"c":39,"v":1},
{"r":7,"c":40,"v":1},{"r":7,"c":41,"v":1},{"r":7,"c":42,"v":1},{"r":7,"c":43,"v":1},{"r":7,"c":44,"v":1},{"r":7,"c":45,"v":1},{"r":7,"c":46,"v":1},{"r":7,"c":47,"v":1},{"r":7,"c":48,"v":1},{"r":7,"c":49,"v":1},
{"r":7,"c":50,"v":1},{"r":7,"c":51,"v":1},{"r":7,"c":52,"v":1},{"r":7,"c":53,"v":1},{"r":7,"c":54,"v":1},{"r":7,"c":55,"v":1},{"r":7,"c":56,"v":1},{"r":7,"c":57,"v":1},{"r":7,"c":58,"v":1},{"r":7,"c":59,"v":1},
{"r":7,"c":60,"v":1},{"r":7,"c":61,"v":1},{"r":7,"c":62,"v":1},{"r":7,"c":63,"v":1},{"r":7,"c":64,"v":1},{"r":7,"c":65,"v":1},{"r":7,"c":66,"v":1},{"r":7,"c":67,"v":1},{"r":7,"c":68,"v":1},{"r":7,"c":69,"v":1},
{"r":7,"c":70,"v":1},{"r":7,"c":71,"v":1},{"r":7,"c":72,"v":1},{"r":7,"c":73,"v":1},{"r":7,"c":74,"v":1},{"r":7,"c":75,"v":1},{"r":7,"c":76,"v":1},{"r":7,"c":77,"v":1},{"r":7,"c":78,"v":1},{"r":7,"c":79,"v":1},
{"r":7,"c":80,"v":1},{"r":7,"c":81,"v":1},{"r":7,"c":82,"v":1},{"r":7,"c":83,"v":1},{"r":7,"c":84,"v":1},{"r":7,"c":85,"v":1},{"r":7,"c":86,"v":1},{"r":7,"c":87,"v":1},{"r":7,"c":88,"v":1},{"r":7,"c":89,"v":1},
{"r":7,"c":90,"v":1},{"r":7,"c":91,"v":1},{"r":7,"c":92,"v":1},{"r":7,"c":93,"v":1},{"r":7,"c":94,"v":1},{"r":7,"c":95,"v":1},{"r":7,"c":96,"v":1},{"r":7,"c":97,"v":1},{"r":7,"c":98,"v":1},{"r":7,"c":99,"v":1},
{"r":7,"c":100,"v":1},{"r":7,"c":101,"v":1},{"r":7,"c":102,"v":1},{"r":7,"c":103,"v":1},{"r":7,"c":104,"v":1},{"r":7,"c":105,"v":1},{"r":7,"c":106,"v":1},{"r":7,"c":107,"v":1},{"r":7,"c":108,"v":1},{"r":7,"c":109,"v":1},
{"r":7,"c":110,"v":1},{"r":7,"c":111,"v":1},{"r":7,"c":112,"v":1},{"r":7,"c":113,"v":1},{"r":7,"c":114,"v":1},{"r":7,"c":115,"v":1},{"r":7,"c":116,"v":1},{"r":7,"c":117,"v":1},{"r":7,"c":118,"v":1},{"r":7,"c":119,"v":1},
{"r":7,"c":120,"v":1},{"r":7,"c":121,"v":1},{"r":7,"c":122,"v":1},{"r":7,"c":123,"v":1},{"r":7,"c":124,"v":1},{"r":7,"c":125,"v":1},{"r":7,"c":126,"v":1},{"r":7,"c":127,"v":1},{"r":7,"c":128,"v":1},{"r":7,"c":129,"v":1},
{"r":7,"c":130,"v":1},{"r":7,"c":131,"v":1},{"r":7,"c":132,"v":1},{"r":7,"c":133,"v":1},{"r":7,"c":134,"v":1},{"r":7,"c":135,"v":1},{"r":7,"c":136,"v":1},{"r":7,"c":137,"v":1},{"r":7,"c":138,"v":1},{"r":7,"c":139,"v":1},
{"r":7,"c":140,"v":1},{"r":7,"c":141,"v":1},{"r":7,"c":142,"v":1},{"r":7,"c":143,"v":1},{"r":7,"c":144,"v":1},{"r":7,"c":145,"v":1},{"r":7,"c":146,"v":1},{"r":7,"c":147,"v":1},{"r":7,"c":148,"v":1},{"r":7,"c":149,"v":1},
{"r":7,"c":150,"v":1},{"r":7,"c":151,"v":1},{"r":7,"c":152,"v":1},{"r":7,"c":153,"v":1},{"r":7,"c":154,"v":1},{"r":7,"c":155,"v":1},{"r":7,"c":156,"v":1},{"r":7,"c":157,"v":1},{"r":7,"c":158,"v":1},{"r":7,"c":159,"v":1}
]},
"layer": [
{
"mark": {"type": "rect", "strokeWidth": 0.6},
"encoding": {
"x": {"field": "c", "type": "ordinal", "scale": {"paddingInner": 0, "paddingOuter": 0},
"axis": {"orient": "bottom", "values": [0,20,40,60,80,100,120,140], "labelAngle": 0, "title": null, "domain": false, "grid": false,
"tickSize": -15, "tickWidth": 2, "tickColor": "black", "labelPadding": 21, "labelFont": "DejaVu Sans", "labelFontSize": 50, "labelColor": "black"}},
"y": {"field": "r", "type": "ordinal", "scale": {"paddingInner": 0, "paddingOuter": 0},
"axis": {"orient": "left", "title": null, "domain": false, "grid": false,
"tickSize": -15, "tickWidth": 2, "tickColor": "black", "labelPadding": 29, "labelFont": "DejaVu Sans", "labelFontSize": 50, "labelColor": "black"}},
"color": {"field": "v", "type": "quantitative", "scale": {"domain": [0, 1], "range": ["#ffff66", "#008066"], "interpolate": "rgb"}, "legend": null},
"stroke": {"field": "v", "type": "quantitative", "scale": {"domain": [0, 1], "range": ["#ffff66", "#008066"], "interpolate": "rgb"}, "legend": null}
}
},
{
"transform": [{"filter": "datum.r == 0"}],
"mark": {"type": "rect", "opacity": 0},
"encoding": {
"x": {"field": "c", "type": "ordinal",
"axis": {"orient": "top", "values": [0,20,40,60,80,100,120,140], "labels": false, "title": null, "domain": false, "grid": false,
"tickSize": -15, "tickWidth": 2, "tickColor": "black"}},
"y": {"field": "r", "type": "ordinal",
"axis": {"orient": "right", "labels": false, "title": null, "domain": false, "grid": false,
"tickSize": -15, "tickWidth": 2, "tickColor": "black"}}
}
}
],
"resolve": {"axis": {"x": "independent", "y": "independent"}}
}
